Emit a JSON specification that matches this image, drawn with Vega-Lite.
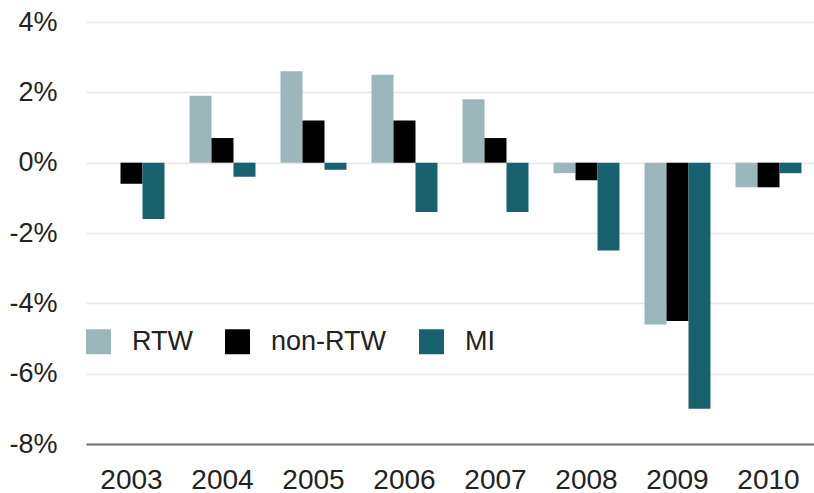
{
  "$schema": "https://vega.github.io/schema/vega-lite/v6.json",
  "width": 728,
  "height": 422,
  "autosize": {"type": "none"},
  "padding": {"left": 86, "top": 22, "right": 0, "bottom": 49},
  "background": "white",
  "config": {
    "font": "Liberation Sans",
    "view": {"stroke": null}
  },
  "data": {
    "values": [
      {"year": "2003", "series": "RTW", "value": 0},
      {"year": "2003", "series": "non-RTW", "value": -0.6},
      {"year": "2003", "series": "MI", "value": -1.6},
      {"year": "2004", "series": "RTW", "value": 1.9},
      {"year": "2004", "series": "non-RTW", "value": 0.7},
      {"year": "2004", "series": "MI", "value": -0.4},
      {"year": "2005", "series": "RTW", "value": 2.6},
      {"year": "2005", "series": "non-RTW", "value": 1.2},
      {"year": "2005", "series": "MI", "value": -0.2},
      {"year": "2006", "series": "RTW", "value": 2.5},
      {"year": "2006", "series": "non-RTW", "value": 1.2},
      {"year": "2006", "series": "MI", "value": -1.4},
      {"year": "2007", "series": "RTW", "value": 1.8},
      {"year": "2007", "series": "non-RTW", "value": 0.7},
      {"year": "2007", "series": "MI", "value": -1.4},
      {"year": "2008", "series": "RTW", "value": -0.3},
      {"year": "2008", "series": "non-RTW", "value": -0.5},
      {"year": "2008", "series": "MI", "value": -2.5},
      {"year": "2009", "series": "RTW", "value": -4.6},
      {"year": "2009", "series": "non-RTW", "value": -4.5},
      {"year": "2009", "series": "MI", "value": -7.0},
      {"year": "2010", "series": "RTW", "value": -0.7},
      {"year": "2010", "series": "non-RTW", "value": -0.7},
      {"year": "2010", "series": "MI", "value": -0.3}
    ]
  },
  "mark": {"type": "bar"},
  "encoding": {
    "x": {
      "field": "year",
      "type": "nominal",
      "scale": {"paddingInner": 0.275, "paddingOuter": 0.1375},
      "axis": {
        "title": null,
        "orient": "bottom",
        "labelAngle": 0,
        "labelFontSize": 28,
        "labelColor": "#222222",
        "labelPadding": 22,
        "ticks": false,
        "domain": true,
        "domainColor": "#6e6e6e",
        "domainWidth": 2,
        "grid": false
      }
    },
    "xOffset": {
      "field": "series",
      "type": "nominal",
      "sort": ["RTW", "non-RTW", "MI"],
      "scale": {"paddingInner": 0, "paddingOuter": 0}
    },
    "y": {
      "field": "value",
      "type": "quantitative",
      "scale": {"domain": [-8, 4], "nice": false, "zero": false},
      "axis": {
        "title": null,
        "values": [-8, -6, -4, -2, 0, 2, 4],
        "labelExpr": "datum.value + '%'",
        "labelFontSize": 27,
        "labelColor": "#222222",
        "labelPadding": 29,
        "ticks": false,
        "domain": false,
        "grid": true,
        "gridColor": "#e8e8e8",
        "gridWidth": 1.5
      }
    },
    "color": {
      "field": "series",
      "type": "nominal",
      "scale": {
        "domain": ["RTW", "non-RTW", "MI"],
        "range": ["#9cb7bb", "#000000", "#18616f"]
      },
      "legend": {
        "title": null,
        "orient": "none",
        "direction": "horizontal",
        "legendX": -1,
        "legendY": 306,
        "symbolType": "square",
        "symbolSize": 625,
        "symbolStrokeWidth": 0,
        "symbolOpacity": 1,
        "labelFontSize": 27,
        "labelColor": "#222222",
        "labelOffset": 20,
        "columnPadding": 31,
        "padding": 0
      }
    }
  }
}
